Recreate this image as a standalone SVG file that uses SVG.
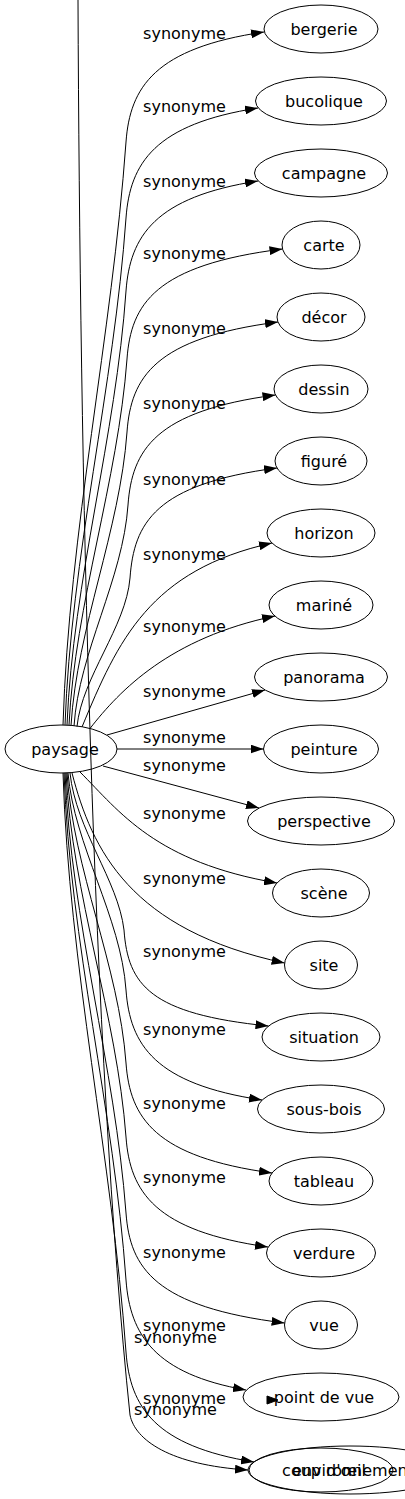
<svg xmlns="http://www.w3.org/2000/svg" width="405" height="1499" viewBox="0 0 405 1499">
<style>
text{font-family:"DejaVu Sans","Liberation Sans",sans-serif;font-size:16px;fill:#000;text-anchor:middle}
.n ellipse{fill:none;stroke:#000;stroke-width:1}
#edges path{fill:none;stroke:#000;stroke-width:1;marker-end:url(#arr)}
#edges polygon{fill:#000;stroke:#000;stroke-width:1}
</style>
<defs>
<marker id="arr" markerWidth="13" markerHeight="9" refX="13" refY="4.5" orient="auto" markerUnits="userSpaceOnUse"><path d="M0,0 L13,4.5 L0,9 z" fill="#000"/></marker>
</defs>
<rect width="405" height="1499" fill="#fff"/>
<g id="paysage" class="n"><ellipse cx="61" cy="749" rx="56" ry="24"/><text x="65" y="755">paysage</text></g>
<g id="bergerie" class="n"><ellipse cx="321" cy="29" rx="57" ry="24"/><text x="324" y="35">bergerie</text></g>
<g id="bucolique" class="n"><ellipse cx="321" cy="101" rx="65.5" ry="24"/><text x="324" y="107">bucolique</text></g>
<g id="campagne" class="n"><ellipse cx="321" cy="173" rx="66.5" ry="24"/><text x="324" y="179">campagne</text></g>
<g id="carte" class="n"><ellipse cx="321" cy="245" rx="39" ry="24"/><text x="324" y="251">carte</text></g>
<g id="decor" class="n"><ellipse cx="321" cy="317" rx="44" ry="24"/><text x="324" y="323">décor</text></g>
<g id="dessin" class="n"><ellipse cx="321" cy="389" rx="47" ry="24"/><text x="324" y="395">dessin</text></g>
<g id="figure" class="n"><ellipse cx="321" cy="461" rx="46" ry="24"/><text x="324" y="467">figuré</text></g>
<g id="horizon" class="n"><ellipse cx="321" cy="533" rx="54" ry="24"/><text x="324" y="539">horizon</text></g>
<g id="marine" class="n"><ellipse cx="321" cy="605" rx="52" ry="24"/><text x="324" y="611">mariné</text></g>
<g id="panorama" class="n"><ellipse cx="321" cy="677" rx="66.5" ry="24"/><text x="324" y="683">panorama</text></g>
<g id="peinture" class="n"><ellipse cx="321" cy="749" rx="57.5" ry="24"/><text x="324" y="755">peinture</text></g>
<g id="perspective" class="n"><ellipse cx="321" cy="821" rx="73.5" ry="24"/><text x="324" y="827">perspective</text></g>
<g id="scene" class="n"><ellipse cx="321" cy="893" rx="48.5" ry="24"/><text x="324" y="899">scène</text></g>
<g id="site" class="n"><ellipse cx="321" cy="965" rx="36.5" ry="24"/><text x="324" y="971">site</text></g>
<g id="situation" class="n"><ellipse cx="321" cy="1037" rx="59" ry="24"/><text x="324" y="1043">situation</text></g>
<g id="sous-bois" class="n"><ellipse cx="321" cy="1109" rx="63.5" ry="24"/><text x="324" y="1115">sous-bois</text></g>
<g id="tableau" class="n"><ellipse cx="321" cy="1181" rx="52" ry="24"/><text x="324" y="1187">tableau</text></g>
<g id="verdure" class="n"><ellipse cx="321" cy="1253" rx="54.5" ry="24"/><text x="324" y="1259">verdure</text></g>
<g id="vue" class="n"><ellipse cx="321" cy="1325" rx="36.5" ry="24"/><text x="324" y="1331">vue</text></g>
<g id="point-de-vue" class="n"><ellipse cx="321" cy="1397" rx="78" ry="24"/><text x="324" y="1403">point de vue</text></g>
<g id="coup-d-oeil" class="n"><ellipse cx="321" cy="1470" rx="72" ry="22"/><text x="324" y="1476">coup d'œil</text></g>
<g id="environnement" class="n"><ellipse cx="350" cy="1470" rx="102" ry="24"/><text x="353" y="1476">environnement</text></g>
<g id="edges">
<path d="M63,725 C69,531 112,336 126,142 C130,87 155,48 264,32"/>
<path d="M65,725 C71,556 114,387 126,218 C130,163 155,124 258,108"/>
<path d="M67,725 C73,580 116,436 126,291 C130,236 155,197 258,181"/>
<path d="M69,725 C75,603 118,481 127,359 C131,304 155,265 282.5,249"/>
<path d="M71,725.5 C77,628 120,530 127,432 C131,377 155,338 278,322"/>
<path d="M74,726 C79,652 123,579 128,505 C132,450 155,411 275.5,395"/>
<path d="M77,726.5 C82,677 126,627 130,578 C134,523 155,484 277,468"/>
<path d="M82,727 C118,640 150,570 272,543"/>
<path d="M90,728.5 C120,690 170,638 275,616"/>
<path d="M107,735 L265,690"/>
<path d="M117,749 L263.5,749"/>
<path d="M103,766 L259,808"/>
<path d="M80,772 C120,812 155,862 277,883"/>
<path d="M72,773 C92,850 130,930 284.6,963"/>
<path d="M70,773 C76,830 118,880 124,930 C128,985 150,1014 268.5,1026"/>
<path d="M68,773 C74,845 121,917 126,990 C130,1045 155,1084 262,1100"/>
<path d="M67,773 C73,869 119,966 126,1063 C130,1118 155,1157 272,1173"/>
<path d="M66,773 C72,894 117,1016 126,1137 C130,1192 155,1231 268,1247"/>
<path d="M65,773 C71,920 115,1066 126,1213 C130,1268 155,1307 284.6,1323"/>
<path d="M64,773 C70,942 114,1111 126,1280 C130,1335 155,1374 246,1390"/>
<path d="M63,773 C69,966 112,1159 126,1352 C130,1407 155,1446 254,1462"/>
<path d="M78,0 C80,470 92,1050 130,1415 C135,1440 170,1465 248,1470"/>
<polygon points="267,1396 278,1400 267,1404"/>
</g>
<g id="labels">
<text x="184.5" y="38.5">synonyme</text>
<text x="184.5" y="112">synonyme</text>
<text x="184.5" y="186.5">synonyme</text>
<text x="184.5" y="259">synonyme</text>
<text x="184.5" y="334">synonyme</text>
<text x="184.5" y="409">synonyme</text>
<text x="184.5" y="485">synonyme</text>
<text x="184.5" y="560">synonyme</text>
<text x="184.5" y="632">synonyme</text>
<text x="184.5" y="697">synonyme</text>
<text x="184.5" y="743">synonyme</text>
<text x="184.5" y="771">synonyme</text>
<text x="184.5" y="819">synonyme</text>
<text x="184.5" y="884">synonyme</text>
<text x="184.5" y="957">synonyme</text>
<text x="184.5" y="1035">synonyme</text>
<text x="184.5" y="1109">synonyme</text>
<text x="184.5" y="1183">synonyme</text>
<text x="184.5" y="1258">synonyme</text>
<text x="184.5" y="1331">synonyme</text>
<text x="175.5" y="1343">synonyme</text>
<text x="184.5" y="1404">synonyme</text>
<text x="175.5" y="1415">synonyme</text>
</g>
</svg>
